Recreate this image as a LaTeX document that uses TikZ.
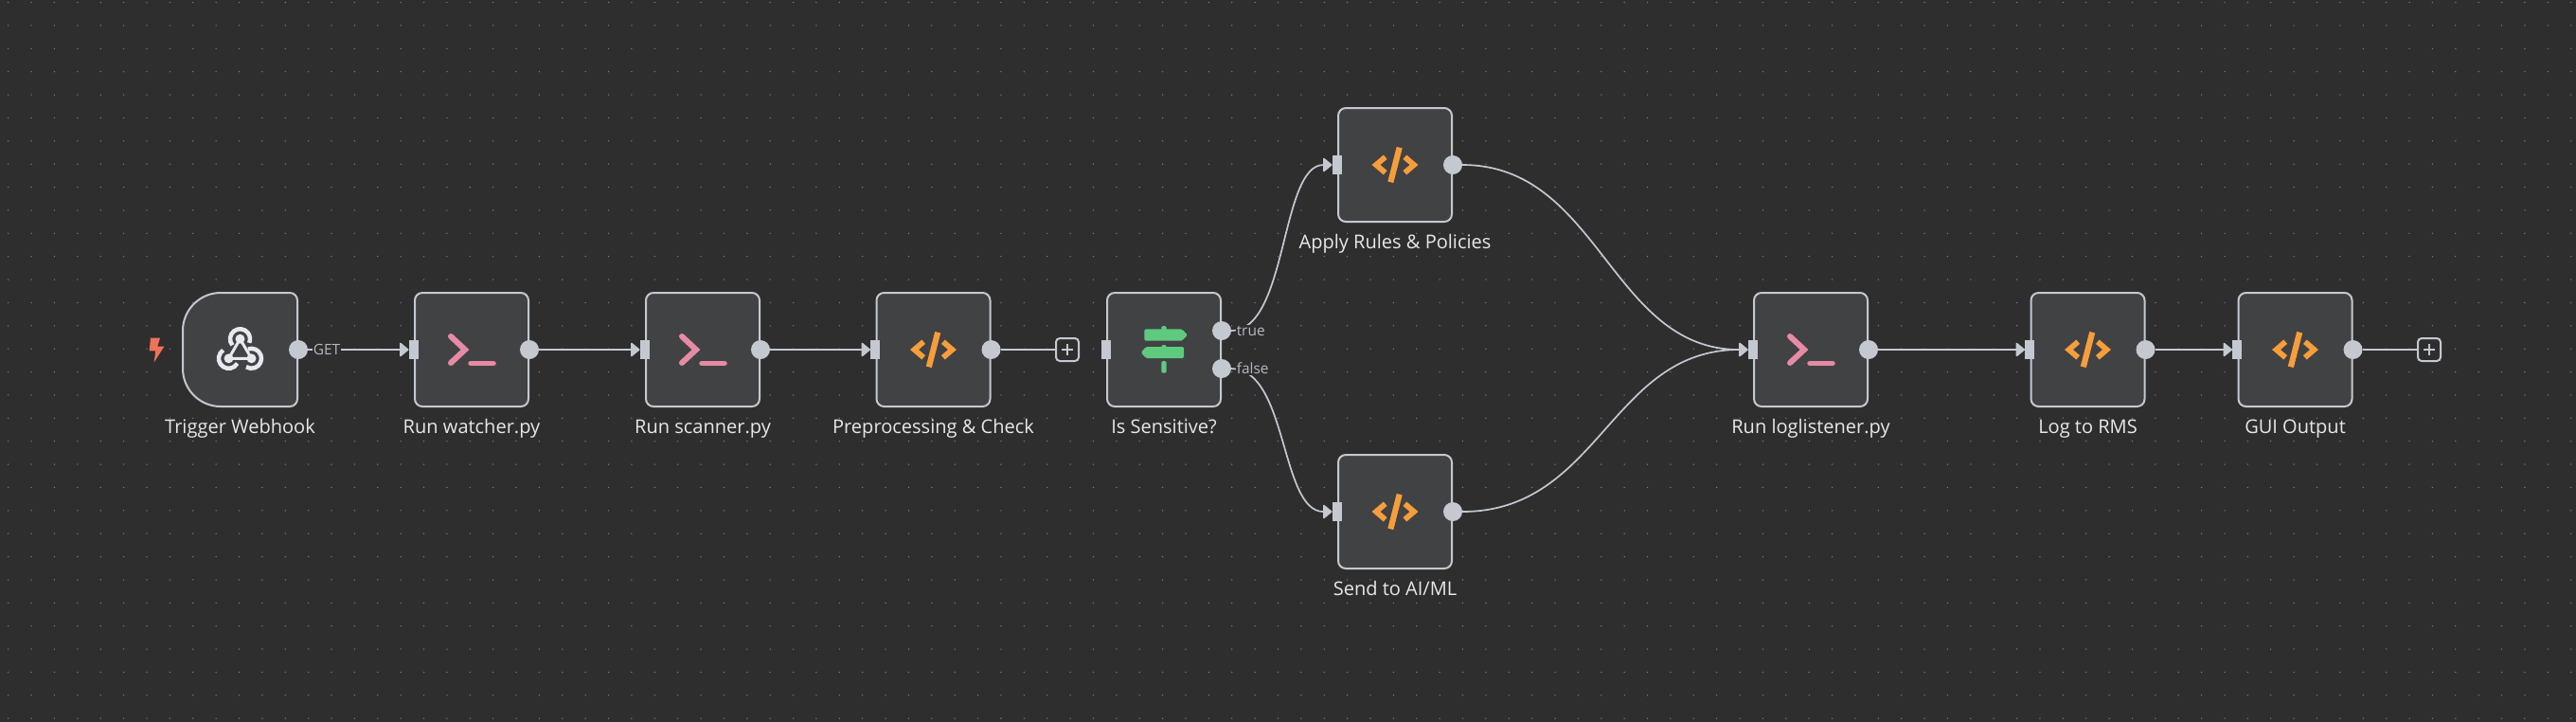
\documentclass[tikz,border=0pt]{standalone}
\usepackage{fontspec}
\setmainfont{Open Sans}
\usetikzlibrary{arrows.meta}
\definecolor{canvas}{HTML}{2E2E2E}
\definecolor{griddot}{HTML}{7C7C7C}
\definecolor{boxfill}{HTML}{414244}
\definecolor{wire}{HTML}{C4C8D0}
\definecolor{labeltext}{HTML}{E8E8EC}
\definecolor{portlabel}{HTML}{B4B8C0}
\definecolor{codeorange}{HTML}{F59E3B}
\definecolor{termpink}{HTML}{E78BA5}
\definecolor{signgreen}{HTML}{5FC97F}
\definecolor{boltred}{HTML}{EE7358}
\definecolor{hookwhite}{HTML}{E8E9EE}
\tikzset{
    flowbox/.style={rectangle, draw=wire, fill=boxfill, line width=0.02cm, rounded corners=0.08cm, minimum width=1.2cm, minimum height=1.2cm, inner sep=0pt, outer sep=0pt},
    hookbox/.style={rectangle, minimum width=1.21cm, minimum height=1.2cm, inner sep=0pt, outer sep=0pt},
    flowlabel/.style={font=\fontsize{5.7}{7}\selectfont, text=labeltext, anchor=base, inner sep=0pt},
    portlabel/.style={font=\fontsize{4.4}{5}\selectfont, text=portlabel, fill=canvas, inner sep=0.3pt, anchor=west},
    inport/.style={rectangle, fill=wire, minimum width=0.1cm, minimum height=0.2cm, inner sep=0pt, outer sep=0pt},
    outport/.style={circle, fill=wire, minimum size=0.2cm, inner sep=0pt, outer sep=0pt},
    plusbox/.style={rectangle, draw=wire, fill=canvas, line width=0.02cm, rounded corners=0.04cm, minimum size=0.24cm, inner sep=0pt, outer sep=0pt},
    link/.style={draw=wire, line width=0.017cm},
    arrowlink/.style={link, -{Triangle[length=0.1cm, width=0.16cm, round]}},
    codeicon/.pic={
        \draw[codeorange, line width=0.058cm, miter limit=4] (-0.103,0.083) -- (-0.2,0) -- (-0.103,-0.083);
        \draw[codeorange, line width=0.058cm, miter limit=4] (0.103,0.083) -- (0.2,0) -- (0.103,-0.083);
        \draw[codeorange, line width=0.062cm] (0.047,0.183) -- (-0.047,-0.183);
    },
    termicon/.pic={
        \draw[termpink, line width=0.06cm, line cap=round] (-0.22,0.14) -- (-0.07,0) -- (-0.22,-0.14);
        \draw[termpink, line width=0.055cm, line cap=round] (-0.01,-0.145) -- (0.23,-0.145);
    },
    hookicon/.pic={
        \draw[hookwhite, line width=0.03cm] (0,0.113) -- (-0.12,-0.093) -- (0.12,-0.093) -- cycle;
        \fill[hookwhite] (0,0.113) circle (0.05) (-0.12,-0.093) circle (0.05) (0.12,-0.093) circle (0.05);
        \draw[hookwhite, line width=0.045cm] (0,0.113) ++(219:0.105) arc[start angle=219, end angle=-23, radius=0.105];
        \draw[hookwhite, line width=0.045cm] (-0.12,-0.093) ++(124:0.105) arc[start angle=124, end angle=330, radius=0.105];
        \draw[hookwhite, line width=0.045cm] (0.12,-0.093) ++(110:0.105) arc[start angle=110, end angle=-122, radius=0.105];
    },
    signicon/.pic={
        \fill[signgreen, rounded corners=0.015cm] (-0.207,0.217) -- (0.19,0.217) -- (0.25,0.155) -- (0.19,0.093) -- (-0.207,0.093) -- cycle;
        \fill[signgreen, rounded corners=0.015cm] (0.21,0.03) -- (-0.19,0.03) -- (-0.243,-0.03) -- (-0.19,-0.09) -- (0.21,-0.09) -- cycle;
        \fill[signgreen, rounded corners=0.015cm] (-0.027,0.25) rectangle (0.027,0.2);
        \fill[signgreen, rounded corners=0.015cm] (-0.027,0.05) rectangle (0.027,0.02);
        \fill[signgreen, rounded corners=0.015cm] (-0.027,-0.12) rectangle (0.027,-0.247);
    }
}
\begin{document}
\begin{tikzpicture}
    \useasboundingbox (0,0) rectangle (27.2,-7.61);
    \fill[canvas] (-0.1,0.1) rectangle (27.3,-7.71);

    % Grid of dots
    \foreach \i in {0,...,111} {
        \foreach \j in {0,...,31} {
            \fill[griddot] ({0.0873+0.24378*\i},{-0.025-0.24378*\j}) circle (0.0075);
        }
    }

    % Trigger
    \fill[boltred] (1.59,-3.567) -- (1.69,-3.567) -- (1.663,-3.657) -- (1.733,-3.657) -- (1.627,-3.823) -- (1.643,-3.703) -- (1.577,-3.703) -- cycle;
    \node[hookbox] (webhook) at (2.535,-3.69) {};
    \draw[wire, fill=boxfill, line width=0.02cm] (3.14,-3.69) -- (3.14,-3.17) arc[start angle=0, end angle=90, radius=0.08] -- (2.33,-3.09) arc[start angle=90, end angle=180, radius=0.4] -- (1.93,-3.89) arc[start angle=180, end angle=270, radius=0.4] -- (3.06,-4.29) arc[start angle=270, end angle=360, radius=0.08] -- cycle;
    \pic at (webhook) {hookicon};
    \node[flowlabel] at ([yshift=-0.28cm]webhook.south) {Trigger Webhook};
    \node[outport] (webhookout) at ([xshift=0.01cm]webhook.east) {};

    % Plain nodes
    \foreach \nm/\x/\y/\ic/\txt in {
        watcher/4.98/-3.69/termicon/Run watcher.py,
        scanner/7.42/-3.69/termicon/Run scanner.py,
        preproc/9.855/-3.69/codeicon/Preprocessing \& Check,
        apply/14.73/-1.74/codeicon/Apply Rules \& Policies,
        send/14.73/-5.4/codeicon/{Send to AI/ML},
        listener/19.12/-3.69/termicon/Run loglistener.py,
        rms/22.045/-3.69/codeicon/Log to RMS,
        gui/24.235/-3.69/codeicon/GUI Output} {
        \node[flowbox] (\nm) at (\x,\y) {};
        \pic at (\nm) {\ic};
        \node[flowlabel] at ([yshift=-0.28cm]\nm.south) {\txt};
        \node[inport] (\nm in) at ([xshift=-0.015cm]\nm.west) {};
        \node[outport] (\nm out) at ([xshift=0.01cm]\nm.east) {};
    }

    % Branch node
    \node[flowbox] (sensitive) at (12.29,-3.69) {};
    \pic at (sensitive) {signicon};
    \node[flowlabel] at ([yshift=-0.28cm]sensitive.south) {Is Sensitive?};
    \node[inport] (sensitivein) at ([xshift=-0.015cm]sensitive.west) {};
    \node[outport] (sensitivetrue) at ([xshift=0.01cm,yshift=0.2cm]sensitive.east) {};
    \node[outport] (sensitivefalse) at ([xshift=0.01cm,yshift=-0.2cm]sensitive.east) {};

    % Add buttons
    \node[plusbox] (plusa) at (11.27,-3.69) {};
    \node[plusbox] (plusb) at (25.65,-3.69) {};
    \foreach \nm in {plusa,plusb} {
        \draw[wire, line width=0.02cm] ([xshift=-0.06cm]\nm.center) -- ([xshift=0.06cm]\nm.center);
        \draw[wire, line width=0.02cm] ([yshift=-0.06cm]\nm.center) -- ([yshift=0.06cm]\nm.center);
    }

    % Straight links
    \draw[arrowlink] (webhookout) -- (watcherin);
    \draw[arrowlink] (watcherout) -- (scannerin);
    \draw[arrowlink] (scannerout) -- (preprocin);
    \draw[link] (preprocout) -- (plusa);
    \draw[arrowlink] (listenerout) -- (rmsin);
    \draw[arrowlink] (rmsout) -- (guiin);
    \draw[link] (guiout) -- (plusb);

    % Curved links
    \draw[arrowlink] (sensitivetrue.east) .. controls +(0.6,0) and +(-0.55,0) .. (applyin.west);
    \draw[arrowlink] (sensitivefalse.east) .. controls +(0.6,0) and +(-0.55,0) .. (sendin.west);
    \draw[arrowlink] (applyout.east) .. controls +(1.45,0) and +(-1.45,0) .. (listenerin.west);
    \draw[arrowlink] (sendout.east) .. controls +(1.45,0) and +(-1.45,0) .. (listenerin.west);

    % Link labels
    \node[portlabel] (getlabel) at (3.29,-3.69) {GET};
    \node[portlabel] (truelabel) at (13.04,-3.49) {true};
    \node[portlabel] (falselabel) at (13.04,-3.89) {false};
\end{tikzpicture}
\end{document}
